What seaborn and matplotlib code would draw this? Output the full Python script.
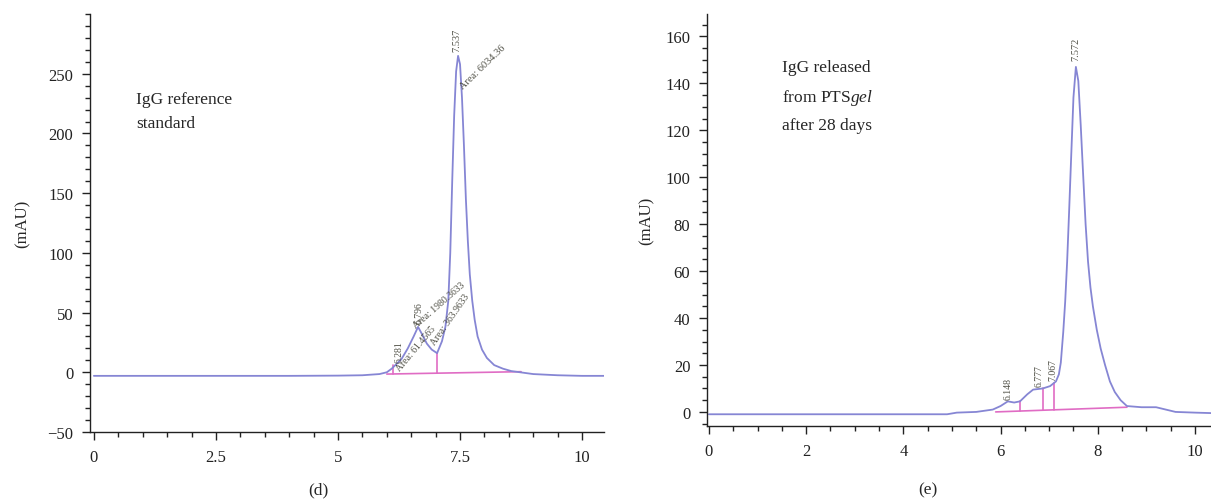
import matplotlib
matplotlib.use("Agg")
import matplotlib.pyplot as plt
import seaborn as sns
import numpy as np
from matplotlib.ticker import MultipleLocator

# panel (d): IgG reference standard
time_d = [0, 1, 2, 3, 4, 5, 5.5, 5.85, 6.0, 6.1, 6.2, 6.3, 6.43, 6.55, 6.64, 6.72,
          6.82, 6.92, 7.03, 7.13, 7.2, 7.26, 7.30, 7.34, 7.38, 7.42, 7.46, 7.50, 7.54,
          7.58, 7.62, 7.66, 7.70, 7.75, 7.80, 7.86, 7.95, 8.05, 8.2, 8.38, 8.55, 8.73,
          9.0, 9.5, 10.0, 10.45]
mau_d = [-3, -3, -3, -3, -3, -2.8, -2.5, -1.5, 0, 3, 7, 11, 20, 30, 38, 32,
         24, 19, 16, 26, 38, 60, 100, 160, 215, 252, 265, 258, 230,
         190, 145, 110, 82, 60, 44, 30, 19, 12, 6, 3, 1, 0,
         -1.5, -2.5, -3, -3]
base_d_x = [6.0, 8.75]
base_d_y = [-1.5, 0.5]
drop_d_x = [6.13, 7.03]
drop_d_top = [6, 16]

# panel (e): IgG released from PTSgel after 28 days
time_e = [0, 1, 2, 3, 4, 4.9, 5.1, 5.5, 5.84, 6.0, 6.15, 6.28, 6.4, 6.55, 6.67, 6.87,
          7.02, 7.14, 7.20, 7.24, 7.29, 7.33, 7.37, 7.41, 7.45, 7.50, 7.55, 7.60, 7.65,
          7.69, 7.75, 7.80, 7.85, 7.90, 7.98, 8.06, 8.15, 8.25, 8.35, 8.47, 8.6, 8.9,
          9.2, 9.4, 9.6, 10.0, 10.33]
mau_e = [-1, -1, -1, -1, -1, -1, -0.3, 0, 1, 2.5, 4.5, 4, 4.5, 7.5, 9.5, 10,
         11, 13, 16, 21, 34, 47, 64, 85, 107, 134, 147, 141, 122,
         105, 80, 64, 53, 45, 35, 27, 20, 13, 8.5, 5, 2.5, 2,
         2, 1, 0, -0.3, -0.5]
base_e_x = [5.9, 8.6]
base_e_y = [0, 2]
drop_e_x = [6.4, 6.87, 7.1]
drop_e_top = [4.5, 10, 12.5]

sns.set_theme(style="ticks")
plt.rcParams.update({
    "font.family": ["Liberation Serif", "DejaVu Serif"],
    "mathtext.fontset": "custom",
    "mathtext.rm": "Liberation Serif",
    "mathtext.it": "Liberation Serif:italic",
    "font.size": 12,
    "xtick.labelsize": 12,
    "ytick.labelsize": 12,
    "axes.linewidth": 1.0,
    "axes.edgecolor": "#222222",
    "xtick.color": "#222222",
    "ytick.color": "#222222",
})

LINE = "#8686d4"
PINK = "#e06cc4"
LBL = "#4e4e44"

fig = plt.figure(figsize=(12.11, 5.02), dpi=100)
ax1 = fig.add_axes([0.0743, 0.1375, 0.4245, 0.8325])
ax2 = fig.add_axes([0.5838, 0.1494, 0.4162, 0.8206])


def baseline(ax, bx, by, dx, dtop):
    sns.lineplot(x=bx, y=by, ax=ax, color=PINK, lw=1.2)
    for x, top in zip(dx, dtop):
        b = np.interp(x, bx, by)
        ax.plot([x, x], [b, top], color=PINK, lw=1.2)


# (d)
baseline(ax1, base_d_x, base_d_y, drop_d_x, drop_d_top)
sns.lineplot(x=time_d, y=mau_d, ax=ax1, color=LINE, lw=1.3)
ax1.set_xlim(-0.08, 10.45)
ax1.set_ylim(-50, 300)
ax1.set_xticks([0, 2.5, 5, 7.5, 10])
ax1.set_xticklabels(["0", "2.5", "5", "7.5", "10"])
ax1.xaxis.set_minor_locator(MultipleLocator(0.5))
ax1.set_yticks([-50, 0, 50, 100, 150, 200, 250])
ax1.set_yticklabels(["\u221250", "0", "50", "100", "150", "200", "250"])
ax1.yaxis.set_minor_locator(MultipleLocator(10))
ax1.set_ylabel("(mAU)", fontsize=12, labelpad=12)
ax1.text(0.0895, 0.815, "IgG reference\nstandard", transform=ax1.transAxes,
         fontsize=12.5, va="top", ha="left", linespacing=1.6)
ax1.text(7.44, 269, "7.537", rotation=90, fontsize=7.5, color=LBL, ha="center", va="bottom")
ax1.text(7.58, 236, "Area: 6034.36", rotation=44, fontsize=7.5, color=LBL, ha="left", va="bottom",
         rotation_mode="anchor")
ax1.text(6.25, 9, "6.281", rotation=90, fontsize=7, color=LBL, ha="center", va="bottom")
ax1.text(6.66, 41, "6.796", rotation=90, fontsize=7, color=LBL, ha="center", va="bottom")
ax1.text(6.3, 0, "Area: 61.4565", rotation=50, fontsize=7, color=LBL, ha="left", va="bottom",
         rotation_mode="anchor")
ax1.text(6.62, 36, "Area: 1980.3633", rotation=41, fontsize=7, color=LBL, ha="left", va="bottom",
         rotation_mode="anchor")
ax1.text(7.02, 22, "Area: 363.9633", rotation=55, fontsize=7, color=LBL, ha="left", va="bottom",
         rotation_mode="anchor")

# (e)
baseline(ax2, base_e_x, base_e_y, drop_e_x, drop_e_top)
sns.lineplot(x=time_e, y=mau_e, ax=ax2, color=LINE, lw=1.3)
ax2.set_xlim(-0.04, 10.33)
ax2.set_ylim(-6, 169.5)
ax2.set_xticks([0, 2, 4, 6, 8, 10])
ax2.xaxis.set_minor_locator(MultipleLocator(0.5))
ax2.set_yticks([0, 20, 40, 60, 80, 100, 120, 140, 160])
ax2.yaxis.set_minor_locator(MultipleLocator(5))
ax2.set_ylabel("(mAU)", fontsize=12, labelpad=8)
ax2.text(0.149, 0.89, "IgG released\nfrom PTS$\\mathit{gel}$\nafter 28 days", transform=ax2.transAxes,
         fontsize=12.5, va="top", ha="left", linespacing=1.85)
ax2.text(7.55, 150, "7.572", rotation=90, fontsize=7.5, color=LBL, ha="center", va="bottom")
ax2.text(6.15, 5.5, "6.148", rotation=90, fontsize=7, color=LBL, ha="center", va="bottom")
ax2.text(6.8, 11, "6.777", rotation=90, fontsize=7, color=LBL, ha="center", va="bottom")
ax2.text(7.07, 13.5, "7.067", rotation=90, fontsize=7, color=LBL, ha="center", va="bottom")

for ax in (ax1, ax2):
    sns.despine(ax=ax)
    ax.set_xlabel("")
    ax.tick_params(which="major", direction="out", length=6, width=1.0, pad=6)
    ax.tick_params(which="minor", direction="out", length=3.5, width=1.0)

fig.text(318 / 1211, 1 - 490 / 502, "(d)", ha="center", va="center", fontsize=12.5)
fig.text(928 / 1211, 1 - 490 / 502, "(e)", ha="center", va="center", fontsize=12.5)

fig.savefig("out.png", dpi=100)
